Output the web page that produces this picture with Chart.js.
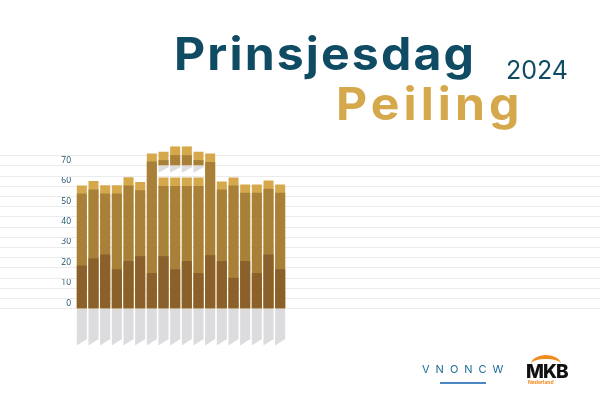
<!DOCTYPE html>
<html>
<head>
<meta charset="utf-8">
<script src="https://cdn.jsdelivr.net/npm/chart.js@4"></script>
<style>
  body { margin: 0; background: #fff; }
  #wrap { position: relative; width: 600px; height: 400px; overflow: hidden; }
  #chart { position: absolute; left: 0; top: 0; }
  .t { position: absolute; white-space: nowrap; line-height: 1; font-family: Inter, "Open Sans", sans-serif; }
  .wide { transform: scaleX(1.07); transform-origin: left top; }
</style>
</head>
<body>
<div id="wrap">
  <canvas id="chart" width="600" height="400"></canvas>
  <div class="t wide" style="left:174px; top:31px; font-size:45px; font-weight:700; letter-spacing:2px; color:#0f4c63;">Prinsjesdag</div>
  <div class="t" style="left:506px; top:58px; font-size:25px; font-weight:400; color:#0f4c63;">2024</div>
  <div class="t wide" style="left:336px; top:81px; font-size:45px; font-weight:700; letter-spacing:3.8px; color:#d6a84c;">Peiling</div>
  <div class="t" style="left:422px; top:364px; font-size:11px; letter-spacing:6px; color:#1f6e96;">VNONCW</div>
  <div style="position:absolute; left:440px; top:382px; width:46px; height:2px; background:#4a88c4;"></div>
  <div style="position:absolute; left:531px; top:355px; width:30px; height:14px; border-top:4px solid #f08a1c; border-radius:50% 50% 0 0;"></div>
  <div class="t" style="left:526px; top:362px; font-size:19px; font-weight:800; letter-spacing:-1px; color:#111;">MKB</div>
  <div class="t" style="left:528px; top:380px; font-size:5px; font-weight:700; color:#f08a1c;">Nederland</div>
</div>
<script>
  // top of each bar, level of the middle band, level of the dark base
  const labels = ["1","2","3","4","5","6","7","8","9","10","11","12","13","14","15","16","17","18"];
  const topLevel = [60.1, 62.3, 60.3, 60.3, 64.2, 61.9, 75.8, 64.1, 64.1, 64.1, 64.1, 75.8, 62.1, 64.1, 60.6, 60.6, 62.6, 60.6];
  const midLevel = [56.2, 58.2, 56.2, 56.2, 60.1, 57.8, 71.9, 59.9, 59.9, 59.9, 59.9, 71.7, 58.2, 60.1, 56.6, 56.6, 58.5, 56.6];
  const darkLevel = [20.9, 24.4, 26.3, 19.1, 23.1, 25.5, 17.2, 25.5, 19.1, 23.1, 17.2, 26.0, 23.1, 14.9, 23.1, 17.2, 26.3, 19.1];

  // floating tower pieces above the middle bars
  const towerFloor = 70.1;
  const towerTop = [null, null, null, null, null, null, null, 76.7, 79.3, 79.3, 76.7, null, null, null, null, null, null, null];
  const towerMid = [null, null, null, null, null, null, null, 72.6, 75.0, 75.0, 72.6, null, null, null, null, null, null, null];
  const towerShadowFloor = 68.8;
  const reflection = -15.3;

  const yTicks = [0, 10, 20, 30, 40, 50, 60, 70];
  const gridValues = [0, 5, 10, 15, 20, 25, 30, 35, 40, 45, 50, 55, 60, 65, 70, 75];

  const dark = "#8b602a";
  const mid = "#a88038";
  const light = "#d6a84c";
  const grey = "#dcdcde";

  const fullGrid = {
    id: "fullGrid",
    beforeDatasetsDraw(chart) {
      const ctx = chart.ctx;
      const y = chart.scales.y;
      ctx.save();
      ctx.strokeStyle = "#ebebeb";
      ctx.lineWidth = 1;
      gridValues.forEach((v) => {
        const py = Math.round(y.getPixelForValue(v)) + 0.5;
        ctx.beginPath();
        ctx.moveTo(0, py);
        ctx.lineTo(chart.width, py);
        ctx.stroke();
      });
      ctx.restore();
    },
  };

  // slanted foot under the grey shadow bars
  const slantFoot = {
    id: "slantFoot",
    afterDatasetsDraw(chart) {
      const ctx = chart.ctx;
      chart.data.datasets.forEach((ds, i) => {
        if (!ds.slant) return;
        const meta = chart.getDatasetMeta(i);
        meta.data.forEach((el, j) => {
          if (ds.data[j] === null) return;
          const half = el.width / 2;
          const bottom = Math.max(el.y, el.base);
          ctx.save();
          ctx.fillStyle = ds.backgroundColor;
          ctx.beginPath();
          ctx.moveTo(el.x - half, bottom - 0.5);
          ctx.lineTo(el.x + half, bottom - 0.5);
          ctx.lineTo(el.x - half, bottom + ds.slant);
          ctx.closePath();
          ctx.fill();
          ctx.restore();
        });
      });
    },
  };

  const ctx = document.getElementById("chart").getContext("2d");
  const chart = new Chart(ctx, {
    type: "bar",
    data: {
      labels: labels,
      datasets: [
        { data: darkLevel, backgroundColor: dark },
        { data: midLevel, backgroundColor: mid },
        { data: topLevel, backgroundColor: light },
        { data: towerMid.map((v) => (v === null ? null : [towerFloor, v])), backgroundColor: mid },
        { data: towerTop.map((v) => (v === null ? null : [towerFloor, v])), backgroundColor: light },
        {
          data: towerTop.map((v) => (v === null ? null : [towerShadowFloor, towerFloor])),
          backgroundColor: grey,
          slant: 5,
        },
        { data: labels.map(() => reflection), backgroundColor: grey, slant: 6 },
      ],
    },
    options: {
      responsive: false,
      animation: false,
      layout: { padding: { left: 0, right: 314, top: 145, bottom: 51 } },
      datasets: { bar: { barPercentage: 1, categoryPercentage: 0.86 } },
      plugins: { legend: { display: false }, tooltip: { enabled: false } },
      scales: {
        x: { stacked: true, display: false },
        y: {
          stacked: false,
          min: -20,
          max: 80,
          grid: { display: false, drawTicks: false },
          border: { display: false },
          afterFit(scale) {
            scale.width = 76;
          },
          ticks: {
            stepSize: 10,
            padding: 5,
            labelOffset: -5,
            color: "#1b4f66",
            font: { family: "Open Sans", size: 8.5 },
            callback: (v) => (yTicks.includes(v) ? String(v) : ""),
          },
        },
      },
    },
    plugins: [fullGrid, slantFoot],
  });
</script>
</body>
</html>
